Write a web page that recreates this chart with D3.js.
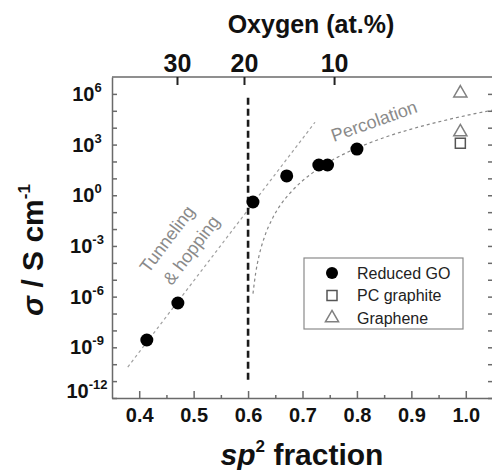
<!DOCTYPE html>
<html>
<head>
<meta charset="utf-8">
<script src="https://cdn.jsdelivr.net/npm/d3@7"></script>
<style>
  html, body { margin: 0; padding: 0; background: #fff; }
  svg { display: block; font-family: "Liberation Sans", Arial, Helvetica, sans-serif; }
</style>
</head>
<body>
<svg id="chart" width="492" height="470"></svg>
<script>
// Conductivity of reduced graphene oxide versus sp2 fraction
const rgoSp2 = [0.414, 0.471, 0.609, 0.671, 0.730, 0.746, 0.800];
const rgoSigma = [2.7e-9, 4.2e-7, 0.4, 14, 62, 62, 540];

const graphiteSp2 = [0.99];
const graphiteSigma = [1200];

const grapheneSp2 = [0.99, 0.99];
const grapheneSigma = [1.1e6, 5500];

// Tunneling & hopping trend line (two ends)
const tunnelSp2 = [0.379, 0.723];
const tunnelSigma = [6.8e-11, 2.1e4];

// Percolation fit curve
const percSp2 = [0.609, 0.614, 0.620, 0.630, 0.645, 0.660, 0.680, 0.700, 0.730, 0.760, 0.800, 0.850, 0.900, 0.950, 1.000, 1.050];
const percSigma = [1.5e-6, 2.5e-5, 2.5e-4, 3.3e-3, 0.044, 0.28, 1.7, 7.2, 39, 150, 620, 2600, 8300, 22000, 52000, 110000];

// Critical sp2 fraction marker
const criticalSp2 = 0.6;
const criticalSigmaRange = [1.2e-11, 6e5];

// Axis ticks
const xMajorTicks = [0.4, 0.5, 0.6, 0.7, 0.8, 0.9, 1.0];
const xMinorTicks = [0.45, 0.55, 0.65, 0.75, 0.85, 0.95];
const yDecadeTicks = [1e-12, 1e-11, 1e-10, 1e-9, 1e-8, 1e-7, 1e-6, 1e-5, 1e-4, 1e-3, 1e-2, 1e-1, 1e0, 1e1, 1e2, 1e3, 1e4, 1e5, 1e6];
const yLabelExponents = [-12, -9, -6, -3, 0, 3, 6];
const oxygenLabels = [30, 20, 10];
const oxygenSp2 = [0.4694, 0.5925, 0.758];

const legendLabels = ["Reduced GO", "PC graphite", "Graphene"];

const svg = d3.select("#chart");
const x = d3.scaleLinear().domain([0.35, 1.05]).range([112, 493]);
const y = d3.scaleLog().domain([1e-12, 1e7]).range([398, 77]);
const [yBottom, yTop] = y.range();
const [xLeft, xRight] = x.range();

const axisColor = "#6a6a6a";

// Bottom axis with inward ticks
const gx = svg.append("g").attr("transform", `translate(0,${yBottom})`)
  .call(d3.axisBottom(x).tickValues(xMajorTicks).tickFormat(d3.format(".1f"))
    .tickSizeInner(-7).tickSizeOuter(0).tickPadding(10));
gx.select(".domain").attr("stroke", axisColor).attr("stroke-width", 1.5);
gx.selectAll(".tick line").attr("stroke", axisColor).attr("stroke-width", 1.5);
gx.selectAll(".tick text").attr("font-size", 20).attr("font-weight", "bold")
  .attr("fill", "#111").attr("font-family", "Liberation Sans, Arial, sans-serif");
const gxm = svg.append("g").attr("transform", `translate(0,${yBottom})`)
  .call(d3.axisBottom(x).tickValues(xMinorTicks).tickFormat("").tickSizeInner(-3).tickSizeOuter(0));
gxm.select(".domain").remove();
gxm.selectAll(".tick line").attr("stroke", axisColor).attr("stroke-width", 1.5);

// Left axis: a tick per decade, labels every third decade
const gy = svg.append("g").attr("transform", `translate(${xLeft},0)`)
  .call(d3.axisLeft(y).tickValues(yDecadeTicks).tickFormat("").tickSizeInner(-5).tickSizeOuter(0));
gy.select(".domain").attr("stroke", axisColor).attr("stroke-width", 1.5);
gy.selectAll(".tick line").attr("stroke", axisColor).attr("stroke-width", 1.5);

const yLabels = svg.append("g").selectAll("text").data(yLabelExponents).join("text")
  .attr("x", 87)
  .attr("y", d => Math.min(y(Math.pow(10, d)) + 7, yBottom))
  .attr("text-anchor", "middle")
  .attr("font-weight", "bold").attr("fill", "#111");
yLabels.append("tspan").attr("font-size", 20).text("10");
yLabels.append("tspan").attr("font-size", 13).attr("dy", -9).text(d => d);

// Right axis
const gr = svg.append("g").attr("transform", `translate(${xRight},0)`)
  .call(d3.axisRight(y).tickValues(yDecadeTicks).tickFormat("").tickSizeInner(-5).tickSizeOuter(0));
gr.select(".domain").attr("stroke", axisColor).attr("stroke-width", 1.5);
gr.selectAll(".tick line").attr("stroke", axisColor).attr("stroke-width", 1.5);

// Top axis: oxygen content
const oxScale = d3.scaleOrdinal().domain(oxygenLabels).range(oxygenSp2.map(x));
svg.append("line").attr("x1", xLeft).attr("x2", xRight).attr("y1", yTop).attr("y2", yTop)
  .attr("stroke", axisColor).attr("stroke-width", 1.5);
const gt = svg.append("g").attr("transform", `translate(0,${yTop})`)
  .call(d3.axisTop(oxScale).tickSizeInner(-8).tickSizeOuter(0).tickPadding(5));
gt.select(".domain").remove();
gt.selectAll(".tick line").attr("stroke", "#222").attr("stroke-width", 2);
gt.selectAll(".tick text").attr("font-size", 25).attr("font-weight", "bold")
  .attr("fill", "#111").attr("font-family", "Liberation Sans, Arial, sans-serif");

svg.append("text").attr("x", 311).attr("y", 33).attr("text-anchor", "middle")
  .attr("font-size", 25).attr("font-weight", "bold").attr("fill", "#111")
  .text("Oxygen (at.%)");

// Axis titles
const xt = svg.append("text").attr("x", 302).attr("y", 465).attr("text-anchor", "middle")
  .attr("font-weight", "bold").attr("fill", "#111");
xt.append("tspan").attr("font-size", 30).attr("font-style", "italic").text("sp");
xt.append("tspan").attr("font-size", 17).attr("dy", -13).text("2");
xt.append("tspan").attr("font-size", 30).attr("dy", 13).text(" fraction");

const yt = svg.append("text").attr("transform", "translate(43,250) rotate(-90)")
  .attr("text-anchor", "middle").attr("font-weight", "bold").attr("fill", "#111");
yt.append("tspan").attr("font-size", 30).attr("font-style", "italic").text("σ");
yt.append("tspan").attr("font-size", 30).text(" / S cm");
yt.append("tspan").attr("font-size", 17).attr("dy", -13).text("-1");

// Fit lines
const line = d3.line().x(d => x(d[0])).y(d => y(d[1]));
svg.append("path").datum(d3.zip(tunnelSp2, tunnelSigma))
  .attr("d", line).attr("fill", "none").attr("stroke", "#a0a0a0")
  .attr("stroke-width", 1.2).attr("stroke-dasharray", "3,3");
svg.append("path").datum(d3.zip(percSp2, percSigma))
  .attr("d", line.curve(d3.curveMonotoneX)).attr("fill", "none").attr("stroke", "#888")
  .attr("stroke-width", 1.2).attr("stroke-dasharray", "3,3");

// Critical sp2 fraction
svg.append("line")
  .attr("x1", x(criticalSp2)).attr("x2", x(criticalSp2))
  .attr("y1", y(criticalSigmaRange[0])).attr("y2", y(criticalSigmaRange[1]))
  .attr("stroke", "#1a1a1a").attr("stroke-width", 2.6).attr("stroke-dasharray", "7,4");

// Regime labels
svg.append("text").attr("transform", "translate(374,121) rotate(-19.5)")
  .attr("text-anchor", "middle").attr("dy", "0.35em")
  .attr("font-size", 18).attr("fill", "#8a8a8a").text("Percolation");
svg.append("text").attr("transform", "translate(167,239) rotate(-53)")
  .attr("text-anchor", "middle").attr("dy", "0.35em")
  .attr("font-size", 18).attr("fill", "#8a8a8a").text("Tunneling");
svg.append("text").attr("transform", "translate(191,250) rotate(-53)")
  .attr("text-anchor", "middle").attr("dy", "0.35em")
  .attr("font-size", 18).attr("fill", "#8a8a8a").text("& hopping");

// Markers
svg.append("g").selectAll("circle").data(d3.zip(rgoSp2, rgoSigma)).join("circle")
  .attr("cx", d => x(d[0])).attr("cy", d => y(d[1])).attr("r", 6.5).attr("fill", "#000");

const tri = d3.symbol().type(d3.symbolTriangle).size(75);
svg.append("g").selectAll("path").data(d3.zip(grapheneSp2, grapheneSigma)).join("path")
  .attr("transform", d => `translate(${x(d[0])},${y(d[1])})`)
  .attr("d", tri).attr("fill", "none").attr("stroke", "#808080").attr("stroke-width", 1.5);

svg.append("g").selectAll("rect").data(d3.zip(graphiteSp2, graphiteSigma)).join("rect")
  .attr("x", d => x(d[0]) - 5).attr("y", d => y(d[1]) - 5)
  .attr("width", 10).attr("height", 10)
  .attr("fill", "none").attr("stroke", "#555").attr("stroke-width", 1.5);

// Legend
const lg = svg.append("g").attr("transform", "translate(304,258)");
lg.append("rect").attr("width", 159).attr("height", 71)
  .attr("fill", "#fff").attr("stroke", "#8a8a8a").attr("stroke-width", 1.2);
const rows = lg.selectAll("g.row").data(legendLabels).join("g")
  .attr("class", "row").attr("transform", (d, i) => `translate(0,${15 + i * 22.5})`);
rows.append("text").attr("x", 53).attr("dy", "0.35em").attr("font-size", 16)
  .attr("fill", "#222").text(d => d);
rows.filter((d, i) => i === 0).append("circle").attr("cx", 28).attr("r", 6).attr("fill", "#000");
rows.filter((d, i) => i === 1).append("rect").attr("x", 23).attr("y", -5)
  .attr("width", 10).attr("height", 10)
  .attr("fill", "none").attr("stroke", "#555").attr("stroke-width", 1.5);
rows.filter((d, i) => i === 2).append("path").attr("transform", "translate(28,0)")
  .attr("d", tri).attr("fill", "none").attr("stroke", "#808080").attr("stroke-width", 1.5);
</script>
</body>
</html>
